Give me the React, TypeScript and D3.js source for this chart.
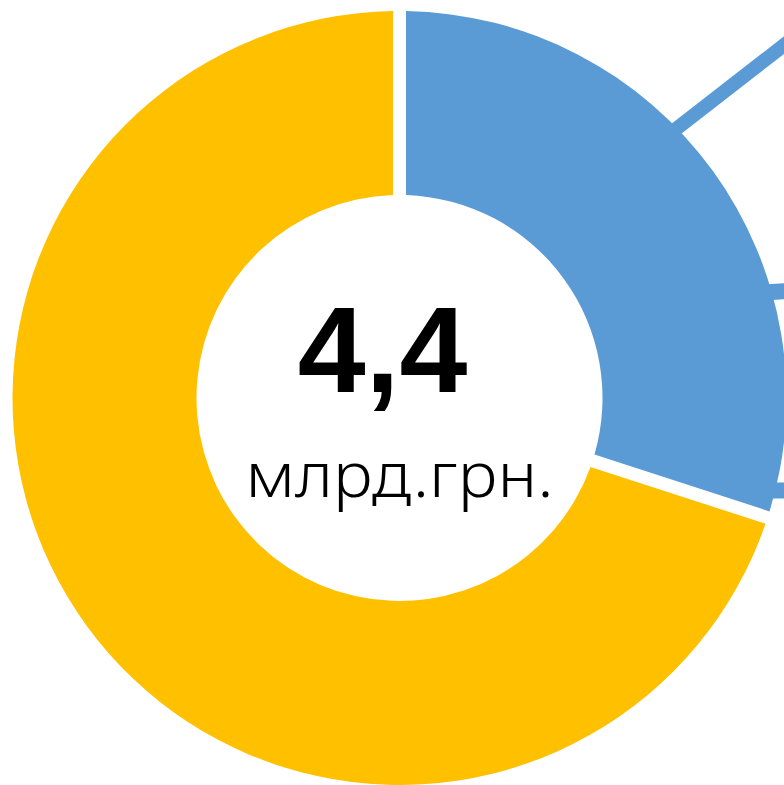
import React, { useEffect, useRef } from 'react';
import * as d3 from 'd3';

// --- Data (billion UAH) ---
const categories = ['Сегмент 1', 'Сегмент 2'];
const values = [1.32, 3.08];
const colors = ['#5B9BD5', '#FFC000'];
const totalLabel = '4,4';
const unitLabel = 'млрд.грн.';
// leader lines anchored at cumulative value positions along the blue slice
const leaderAnchors = [0.559, 0.904, 1.271];
const leaderDirections = [-37.8, -3, 0]; // degrees from horizontal

const W = 784;
const H = 785;

const DonutChart = () => {
  const ref = useRef<SVGSVGElement | null>(null);

  useEffect(() => {
    if (!ref.current) return;
    const svg = d3.select(ref.current);
    svg.selectAll('*').remove();

    const cx = 399.5;
    const cy = 398;
    const outerR = 387;
    const innerR = 203;
    const gap = 13;

    const g = svg.append('g').attr('transform', `translate(${cx},${cy})`);

    const pie = d3.pie<number>().sort(null).value(d => d);
    const arcs = pie(values);
    const arc = d3.arc<d3.PieArcDatum<number>>()
      .innerRadius(innerR)
      .outerRadius(outerR)
      .padAngle(gap / outerR)
      .padRadius(outerR);

    g.selectAll('path.slice').data(arcs).enter().append('path')
      .attr('class', 'slice')
      .attr('d', arc)
      .attr('fill', (d, i) => colors[i])
      .append('title').text((d, i) => categories[i]);

    const total = d3.sum(values);
    const angleScale = d3.scaleLinear().domain([0, total]).range([0, 2 * Math.PI]);

    leaderAnchors.forEach((v, i) => {
      const a = angleScale(v);
      const x0 = Math.sin(a) * (outerR - 4);
      const y0 = -Math.cos(a) * (outerR - 4);
      const dir = (leaderDirections[i] * Math.PI) / 180;
      const len = 300;
      g.append('line')
        .attr('x1', x0).attr('y1', y0)
        .attr('x2', x0 + Math.cos(dir) * len)
        .attr('y2', y0 + Math.sin(dir) * len)
        .attr('stroke', colors[0])
        .attr('stroke-width', i === 0 ? 14 : 16);
    });

    g.append('text')
      .attr('x', -17)
      .attr('y', -6)
      .attr('text-anchor', 'middle')
      .style('font-family', '"Liberation Sans", Arial, sans-serif')
      .style('font-weight', 'bold')
      .style('font-size', '122px')
      .attr('fill', '#000')
      .text(totalLabel);

    g.append('text')
      .attr('x', 0)
      .attr('y', 99)
      .attr('text-anchor', 'middle')
      .attr('textLength', 308)
      .attr('lengthAdjust', 'spacingAndGlyphs')
      .style('font-family', '"Noto Sans", "DejaVu Sans", sans-serif')
      .style('font-weight', 300)
      .style('font-size', '63px')
      .attr('fill', '#000')
      .text(unitLabel);
  }, []);

  return (
    <svg
      ref={ref}
      width={W}
      height={H}
      style={{ position: 'absolute', left: 0, top: 0, background: '#fff' }}
    />
  );
};

export default function App() {
  return <DonutChart />;
}
